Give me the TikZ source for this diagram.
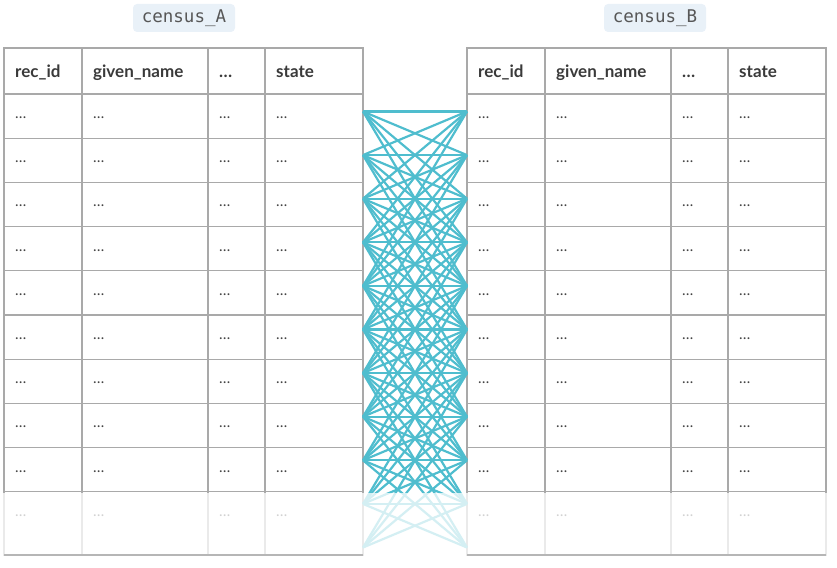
\documentclass[tikz,border=0pt]{standalone}
\usepackage{fontspec}
\setmainfont{Lato}
\newfontfamily\tagfont{DejaVu Sans Mono}
\usetikzlibrary{positioning, calc}
\definecolor{rlteal}{HTML}{4FBDCE}
\definecolor{rlgrid}{HTML}{A9A9A9}
\definecolor{rlink}{HTML}{3A3A3A}
\definecolor{rldots}{HTML}{444444}
\definecolor{rltag}{HTML}{E9F1F8}

\begin{document}
\begin{tikzpicture}[x=1pt, y=-1pt, font=\fontsize{17}{20}\selectfont,
      grid/.style={draw=rlgrid, line width=1.2pt},
      hdr/.style={anchor=base west, inner sep=0pt, text=rlink, font=\fontsize{17}{20}\selectfont\bfseries},
      cell/.style={anchor=west, inner sep=0pt, text=rldots, font=\fontsize{15}{18}\selectfont},
      tag/.style={fill=rltag, rounded corners=4pt, minimum width=102pt, minimum height=28pt,
                  inner sep=0pt, text=rlink!85, font=\tagfont\fontsize{17.5}{20}\selectfont},
      link/.style={draw=rlteal, line width=2.2pt}]

      \useasboundingbox (0,0) rectangle (837,567);

      \node[tag] (tagA) at (184,18) {census\_A};
      \node[tag] (tagB) at (655,18) {census\_B};

      % two tables, same layout, B shifted right
      \foreach \ox/\t in {0/A, 463/B} {
        \begin{scope}[shift={(\ox,0)}]
          \draw[grid] (4,48) rectangle (363,555);
          \foreach \x in {82,208,265} \draw[grid] (\x,48) -- (\x,555);
          \foreach \r in {0,...,9} \draw[grid] (4,{94+44.2*\r}) -- (363,{94+44.2*\r});
          \node[hdr] (\t-id) at (15,77.5) {rec\_id};
          \node[hdr] (\t-gn) at (93,77.5) {given\_name};
          \node[hdr] (\t-dt) at (219,77.5) {…};
          \node[hdr] (\t-st) at (276,77.5) {state};
          \foreach \r in {1,...,10}
            \foreach \x [count=\c] in {15,93,219,276}
              \node[cell] (\t-\r-\c) at (\x,{94+44.2*(\r-.5)+1.5}) {…};
        \end{scope}
      }

      % candidate pairs between the tables
      \foreach \i in {0,...,10} {
        \coordinate (a\i) at (363,{111.5+43.6*\i});
        \coordinate (b\i) at (467,{111.5+43.6*\i});
      }
      \foreach \i in {0,...,10}
        \foreach \j in {0,...,10} {
          \pgfmathtruncatemacro\k{(abs(\i-\j)<5)&&(\i+\j<20)}
          \ifnum\k=1 \draw[link] (a\i) -- (b\j); \fi
        }

      % fade out the last row
      \fill[white, opacity=.76] (0,492.6) rectangle (837,556);
      \draw[grid, draw=rlgrid!85] (4,555) -- (363,555) (467,555) -- (826,555);
    \end{tikzpicture}
\end{document}
